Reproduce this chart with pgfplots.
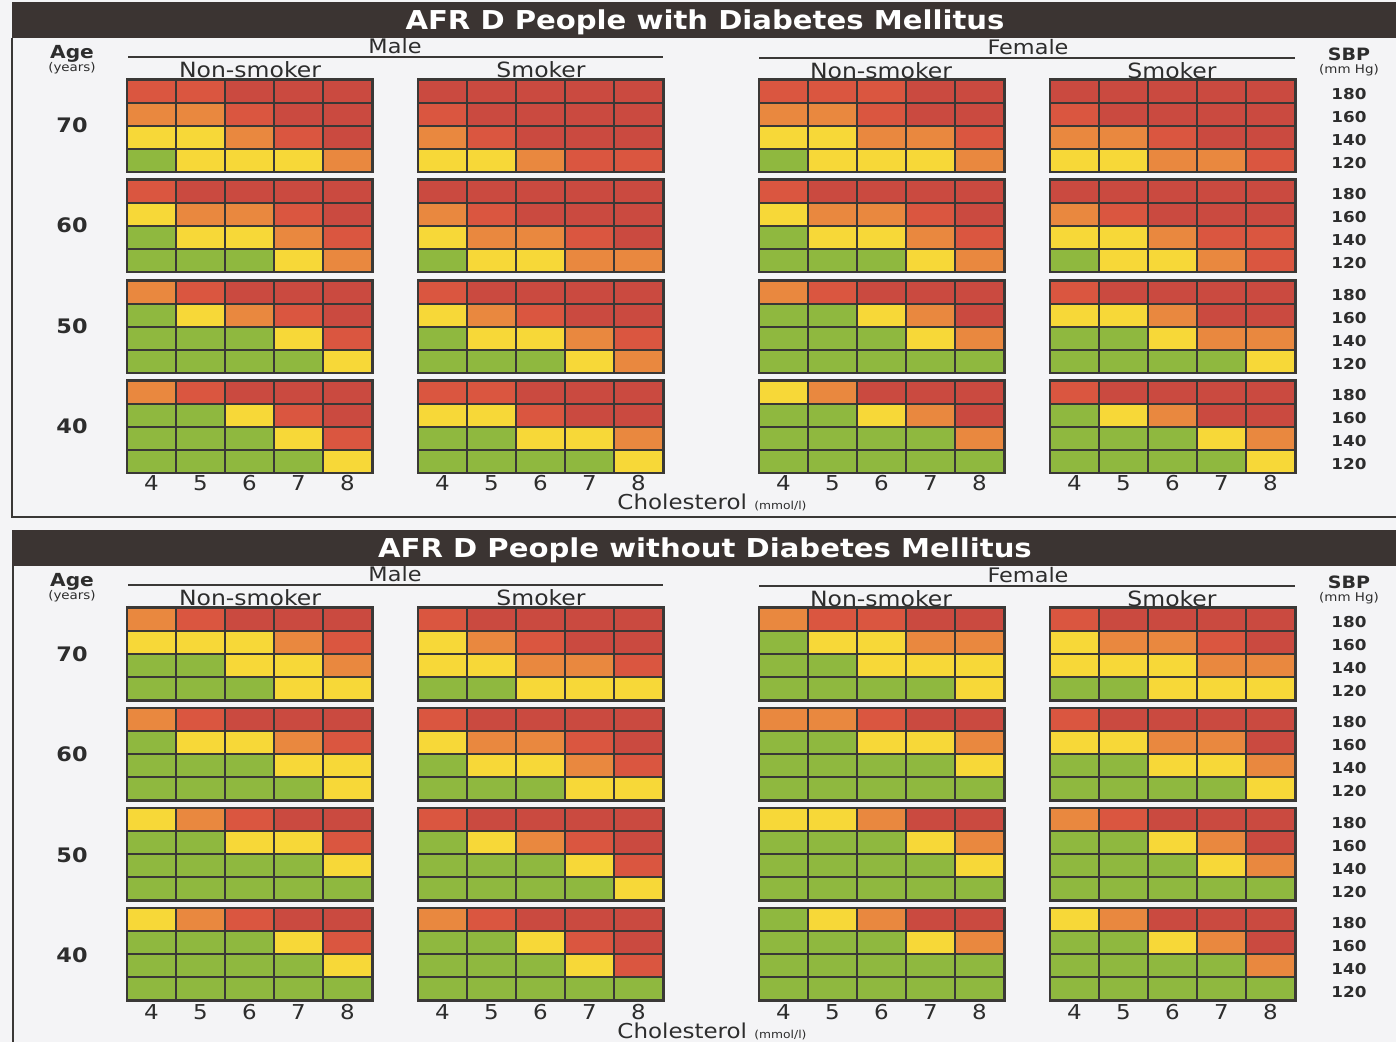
\documentclass[border=0pt]{standalone}
\usepackage{pgfplots}
\pgfplotsset{compat=1.18}
\usepackage{fontspec}
\setmainfont{DejaVu Sans}[FakeStretch=1.12]
\pgfdeclarelayer{background}
\pgfsetlayers{background,main}
\definecolor{bgc}{RGB}{244,244,246}
\definecolor{barc}{RGB}{59,52,50}
\definecolor{ink}{RGB}{45,45,45}
\definecolor{gridc}{RGB}{58,56,54}
\definecolor{rgreen}{RGB}{143,184,63}
\definecolor{ryellow}{RGB}{247,216,56}
\definecolor{rorange}{RGB}{233,136,63}
\definecolor{rred}{RGB}{218,86,64}
\definecolor{rdark}{RGB}{202,74,64}
\newcommand{\fs}[1]{\fontsize{#1}{#1}\selectfont}
% one 5x4 risk grid: #1 = left edge, #2 = bottom edge, #3 = rows "chol sbp level"
\newcommand{\riskgrid}[3]{%
  \addplot[scatter, only marks, mark=square*, mark size=11.5pt,
    mark options={xscale=2.1304, draw=gridc, line width=2pt},
    point meta=explicit symbolic,
    scatter/classes={1={fill=rgreen},2={fill=ryellow},3={fill=rorange},4={fill=rred},5={fill=rdark}}]
    table[header=false, row sep=\\, meta index=2,
      x expr={#1+(\thisrowno{0}-4)*49+24.5},
      y expr={#2+(\thisrowno{1}-120)*1.15+11.5}] {#3};
  \draw[gridc, line width=3pt] (axis cs:#1,#2) rectangle ++(245pt,92pt);
}
\newcommand{\nd}[4]{\node[anchor=base, inner sep=0pt, text=ink, font=#3] at (#1pt,#2pt) {#4};}
\newcommand{\paneltext}[1]{%
  \fill[barc] (12pt,1004pt) rectangle (1396pt,1040pt);
  \node[anchor=base, inner sep=0pt, text=white, font=\fs{26}\bfseries] at (705pt,1012pt) {#1};
  \nd{72}{983}{\fs{18}\bfseries}{Age}
  \nd{72}{970}{\fs{12}}{(years)}
  \nd{395}{988}{\fs{20}}{Male}
  \draw[gridc, line width=2pt] (128pt,985pt) -- (663pt,985pt);
  \nd{1028}{987}{\fs{20}}{Female}
  \draw[gridc, line width=2pt] (759pt,984pt) -- (1295pt,984pt);
  \nd{250}{964}{\fs{21}}{Non-smoker}
  \nd{541}{964}{\fs{21}}{Smoker}
  \nd{881}{963}{\fs{21}}{Non-smoker}
  \nd{1172}{963}{\fs{21}}{Smoker}
  \nd{1349}{981}{\fs{17}\bfseries}{SBP}
  \nd{1349}{968}{\fs{12}}{(mm Hg)}
  \foreach \yy/\lab in {909/70, 809/60, 708/50, 608/40}
    {\nd{72}{\yy}{\fs{20}\bfseries}{\lab}}
  \foreach \a/\b/\c/\d in {942.5/919.5/896.5/873.5, 842.5/819.5/796.5/773.5, 741.5/718.5/695.5/672.5, 641.5/618.5/595.5/572.5}
    {\nd{1349}{\a}{\fs{15}\bfseries}{180}
     \nd{1349}{\b}{\fs{15}\bfseries}{160}
     \nd{1349}{\c}{\fs{15}\bfseries}{140}
     \nd{1349}{\d}{\fs{15}\bfseries}{120}}
  \foreach \g in {127,418,759,1050}
    {\foreach \ch in {4,5,6,7,8}
      {\pgfmathsetmacro\xx{\g+24.5+49*(\ch-4)}
       \nd{\xx}{551}{\fs{20.5}}{\ch}}}
  \nd{712}{532}{\fs{20.5}}{Cholesterol {\fs{11}(mmol/l)}}
}
\begin{document}
\begin{tikzpicture}
\begin{axis}[
  scale only axis, width=1396pt, height=1042pt,
  xmin=0, xmax=1396, ymin=0, ymax=1042,
  hide axis, clip=false,
]
\coordinate (O) at (axis cs:0,0);
% ===== People with Diabetes Mellitus =====
% age 70
\riskgrid{127}{870}{4 180 4\\5 180 4\\6 180 5\\7 180 5\\8 180 5\\4 160 3\\5 160 3\\6 160 4\\7 160 5\\8 160 5\\4 140 2\\5 140 2\\6 140 3\\7 140 4\\8 140 5\\4 120 1\\5 120 2\\6 120 2\\7 120 2\\8 120 3\\}
\riskgrid{418}{870}{4 180 5\\5 180 5\\6 180 5\\7 180 5\\8 180 5\\4 160 4\\5 160 5\\6 160 5\\7 160 5\\8 160 5\\4 140 3\\5 140 4\\6 140 5\\7 140 5\\8 140 5\\4 120 2\\5 120 2\\6 120 3\\7 120 4\\8 120 4\\}
\riskgrid{759}{870}{4 180 4\\5 180 4\\6 180 4\\7 180 5\\8 180 5\\4 160 3\\5 160 3\\6 160 4\\7 160 5\\8 160 5\\4 140 2\\5 140 2\\6 140 3\\7 140 3\\8 140 4\\4 120 1\\5 120 2\\6 120 2\\7 120 2\\8 120 3\\}
\riskgrid{1050}{870}{4 180 5\\5 180 5\\6 180 5\\7 180 5\\8 180 5\\4 160 4\\5 160 5\\6 160 5\\7 160 5\\8 160 5\\4 140 3\\5 140 3\\6 140 4\\7 140 5\\8 140 5\\4 120 2\\5 120 2\\6 120 3\\7 120 3\\8 120 4\\}
% age 60
\riskgrid{127}{770}{4 180 4\\5 180 5\\6 180 5\\7 180 5\\8 180 5\\4 160 2\\5 160 3\\6 160 3\\7 160 4\\8 160 5\\4 140 1\\5 140 2\\6 140 2\\7 140 3\\8 140 4\\4 120 1\\5 120 1\\6 120 1\\7 120 2\\8 120 3\\}
\riskgrid{418}{770}{4 180 5\\5 180 5\\6 180 5\\7 180 5\\8 180 5\\4 160 3\\5 160 4\\6 160 5\\7 160 5\\8 160 5\\4 140 2\\5 140 3\\6 140 3\\7 140 4\\8 140 5\\4 120 1\\5 120 2\\6 120 2\\7 120 3\\8 120 3\\}
\riskgrid{759}{770}{4 180 4\\5 180 5\\6 180 5\\7 180 5\\8 180 5\\4 160 2\\5 160 3\\6 160 3\\7 160 4\\8 160 5\\4 140 1\\5 140 2\\6 140 2\\7 140 3\\8 140 4\\4 120 1\\5 120 1\\6 120 1\\7 120 2\\8 120 3\\}
\riskgrid{1050}{770}{4 180 5\\5 180 5\\6 180 5\\7 180 5\\8 180 5\\4 160 3\\5 160 4\\6 160 5\\7 160 5\\8 160 5\\4 140 2\\5 140 2\\6 140 3\\7 140 4\\8 140 4\\4 120 1\\5 120 2\\6 120 2\\7 120 3\\8 120 4\\}
% age 50
\riskgrid{127}{669}{4 180 3\\5 180 4\\6 180 5\\7 180 5\\8 180 5\\4 160 1\\5 160 2\\6 160 3\\7 160 4\\8 160 5\\4 140 1\\5 140 1\\6 140 1\\7 140 2\\8 140 4\\4 120 1\\5 120 1\\6 120 1\\7 120 1\\8 120 2\\}
\riskgrid{418}{669}{4 180 4\\5 180 5\\6 180 5\\7 180 5\\8 180 5\\4 160 2\\5 160 3\\6 160 4\\7 160 5\\8 160 5\\4 140 1\\5 140 2\\6 140 2\\7 140 3\\8 140 4\\4 120 1\\5 120 1\\6 120 1\\7 120 2\\8 120 3\\}
\riskgrid{759}{669}{4 180 3\\5 180 4\\6 180 5\\7 180 5\\8 180 5\\4 160 1\\5 160 1\\6 160 2\\7 160 3\\8 160 5\\4 140 1\\5 140 1\\6 140 1\\7 140 2\\8 140 3\\4 120 1\\5 120 1\\6 120 1\\7 120 1\\8 120 1\\}
\riskgrid{1050}{669}{4 180 4\\5 180 5\\6 180 5\\7 180 5\\8 180 5\\4 160 2\\5 160 2\\6 160 3\\7 160 5\\8 160 5\\4 140 1\\5 140 1\\6 140 2\\7 140 3\\8 140 3\\4 120 1\\5 120 1\\6 120 1\\7 120 1\\8 120 2\\}
% age 40
\riskgrid{127}{569}{4 180 3\\5 180 4\\6 180 5\\7 180 5\\8 180 5\\4 160 1\\5 160 1\\6 160 2\\7 160 4\\8 160 5\\4 140 1\\5 140 1\\6 140 1\\7 140 2\\8 140 4\\4 120 1\\5 120 1\\6 120 1\\7 120 1\\8 120 2\\}
\riskgrid{418}{569}{4 180 4\\5 180 4\\6 180 5\\7 180 5\\8 180 5\\4 160 2\\5 160 2\\6 160 4\\7 160 5\\8 160 5\\4 140 1\\5 140 1\\6 140 2\\7 140 2\\8 140 3\\4 120 1\\5 120 1\\6 120 1\\7 120 1\\8 120 2\\}
\riskgrid{759}{569}{4 180 2\\5 180 3\\6 180 5\\7 180 5\\8 180 5\\4 160 1\\5 160 1\\6 160 2\\7 160 3\\8 160 5\\4 140 1\\5 140 1\\6 140 1\\7 140 1\\8 140 3\\4 120 1\\5 120 1\\6 120 1\\7 120 1\\8 120 1\\}
\riskgrid{1050}{569}{4 180 4\\5 180 5\\6 180 5\\7 180 5\\8 180 5\\4 160 1\\5 160 2\\6 160 3\\7 160 5\\8 160 5\\4 140 1\\5 140 1\\6 140 1\\7 140 2\\8 140 3\\4 120 1\\5 120 1\\6 120 1\\7 120 1\\8 120 2\\}
% ===== People without Diabetes Mellitus =====
% age 70
\riskgrid{127}{342}{4 180 3\\5 180 4\\6 180 5\\7 180 5\\8 180 5\\4 160 2\\5 160 2\\6 160 2\\7 160 3\\8 160 4\\4 140 1\\5 140 1\\6 140 2\\7 140 2\\8 140 3\\4 120 1\\5 120 1\\6 120 1\\7 120 2\\8 120 2\\}
\riskgrid{418}{342}{4 180 4\\5 180 5\\6 180 5\\7 180 5\\8 180 5\\4 160 2\\5 160 3\\6 160 4\\7 160 5\\8 160 5\\4 140 2\\5 140 2\\6 140 3\\7 140 3\\8 140 4\\4 120 1\\5 120 1\\6 120 2\\7 120 2\\8 120 2\\}
\riskgrid{759}{342}{4 180 3\\5 180 4\\6 180 4\\7 180 5\\8 180 5\\4 160 1\\5 160 2\\6 160 2\\7 160 3\\8 160 3\\4 140 1\\5 140 1\\6 140 2\\7 140 2\\8 140 2\\4 120 1\\5 120 1\\6 120 1\\7 120 1\\8 120 2\\}
\riskgrid{1050}{342}{4 180 4\\5 180 5\\6 180 5\\7 180 5\\8 180 5\\4 160 2\\5 160 3\\6 160 3\\7 160 4\\8 160 5\\4 140 2\\5 140 2\\6 140 2\\7 140 3\\8 140 3\\4 120 1\\5 120 1\\6 120 2\\7 120 2\\8 120 2\\}
% age 60
\riskgrid{127}{242}{4 180 3\\5 180 4\\6 180 5\\7 180 5\\8 180 5\\4 160 1\\5 160 2\\6 160 2\\7 160 3\\8 160 4\\4 140 1\\5 140 1\\6 140 1\\7 140 2\\8 140 2\\4 120 1\\5 120 1\\6 120 1\\7 120 1\\8 120 2\\}
\riskgrid{418}{242}{4 180 4\\5 180 5\\6 180 5\\7 180 5\\8 180 5\\4 160 2\\5 160 3\\6 160 3\\7 160 4\\8 160 5\\4 140 1\\5 140 2\\6 140 2\\7 140 3\\8 140 4\\4 120 1\\5 120 1\\6 120 1\\7 120 2\\8 120 2\\}
\riskgrid{759}{242}{4 180 3\\5 180 3\\6 180 4\\7 180 5\\8 180 5\\4 160 1\\5 160 1\\6 160 2\\7 160 2\\8 160 3\\4 140 1\\5 140 1\\6 140 1\\7 140 1\\8 140 2\\4 120 1\\5 120 1\\6 120 1\\7 120 1\\8 120 1\\}
\riskgrid{1050}{242}{4 180 4\\5 180 5\\6 180 5\\7 180 5\\8 180 5\\4 160 2\\5 160 2\\6 160 3\\7 160 3\\8 160 5\\4 140 1\\5 140 1\\6 140 2\\7 140 2\\8 140 3\\4 120 1\\5 120 1\\6 120 1\\7 120 1\\8 120 2\\}
% age 50
\riskgrid{127}{142}{4 180 2\\5 180 3\\6 180 4\\7 180 5\\8 180 5\\4 160 1\\5 160 1\\6 160 2\\7 160 2\\8 160 4\\4 140 1\\5 140 1\\6 140 1\\7 140 1\\8 140 2\\4 120 1\\5 120 1\\6 120 1\\7 120 1\\8 120 1\\}
\riskgrid{418}{142}{4 180 4\\5 180 5\\6 180 5\\7 180 5\\8 180 5\\4 160 1\\5 160 2\\6 160 3\\7 160 4\\8 160 5\\4 140 1\\5 140 1\\6 140 1\\7 140 2\\8 140 4\\4 120 1\\5 120 1\\6 120 1\\7 120 1\\8 120 2\\}
\riskgrid{759}{142}{4 180 2\\5 180 2\\6 180 3\\7 180 5\\8 180 5\\4 160 1\\5 160 1\\6 160 1\\7 160 2\\8 160 3\\4 140 1\\5 140 1\\6 140 1\\7 140 1\\8 140 2\\4 120 1\\5 120 1\\6 120 1\\7 120 1\\8 120 1\\}
\riskgrid{1050}{142}{4 180 3\\5 180 4\\6 180 5\\7 180 5\\8 180 5\\4 160 1\\5 160 1\\6 160 2\\7 160 3\\8 160 5\\4 140 1\\5 140 1\\6 140 1\\7 140 2\\8 140 3\\4 120 1\\5 120 1\\6 120 1\\7 120 1\\8 120 1\\}
% age 40
\riskgrid{127}{42}{4 180 2\\5 180 3\\6 180 4\\7 180 5\\8 180 5\\4 160 1\\5 160 1\\6 160 1\\7 160 2\\8 160 4\\4 140 1\\5 140 1\\6 140 1\\7 140 1\\8 140 2\\4 120 1\\5 120 1\\6 120 1\\7 120 1\\8 120 1\\}
\riskgrid{418}{42}{4 180 3\\5 180 4\\6 180 5\\7 180 5\\8 180 5\\4 160 1\\5 160 1\\6 160 2\\7 160 4\\8 160 5\\4 140 1\\5 140 1\\6 140 1\\7 140 2\\8 140 4\\4 120 1\\5 120 1\\6 120 1\\7 120 1\\8 120 1\\}
\riskgrid{759}{42}{4 180 1\\5 180 2\\6 180 3\\7 180 5\\8 180 5\\4 160 1\\5 160 1\\6 160 1\\7 160 2\\8 160 3\\4 140 1\\5 140 1\\6 140 1\\7 140 1\\8 140 1\\4 120 1\\5 120 1\\6 120 1\\7 120 1\\8 120 1\\}
\riskgrid{1050}{42}{4 180 2\\5 180 3\\6 180 5\\7 180 5\\8 180 5\\4 160 1\\5 160 1\\6 160 2\\7 160 3\\8 160 5\\4 140 1\\5 140 1\\6 140 1\\7 140 1\\8 140 3\\4 120 1\\5 120 1\\6 120 1\\7 120 1\\8 120 1\\}
\end{axis}
\begin{scope}[shift={(O)}]
\pgfresetboundingbox
\useasboundingbox (0pt,0pt) rectangle (1396pt,1042pt);
\begin{pgfonlayer}{background}
\fill[bgc] (0pt,0pt) rectangle (1396pt,1042pt);
\end{pgfonlayer}
% panel frames
\draw[gridc, line width=2pt] (12pt,1004pt) -- (12pt,525pt) -- (1396pt,525pt);
\draw[gridc, line width=2pt] (13pt,476pt) -- (13pt,0pt);
\paneltext{AFR D People with Diabetes Mellitus}
\begin{scope}[yshift=-528pt]
\paneltext{AFR D People without Diabetes Mellitus}
\end{scope}
\end{scope}
\end{tikzpicture}
\end{document}
